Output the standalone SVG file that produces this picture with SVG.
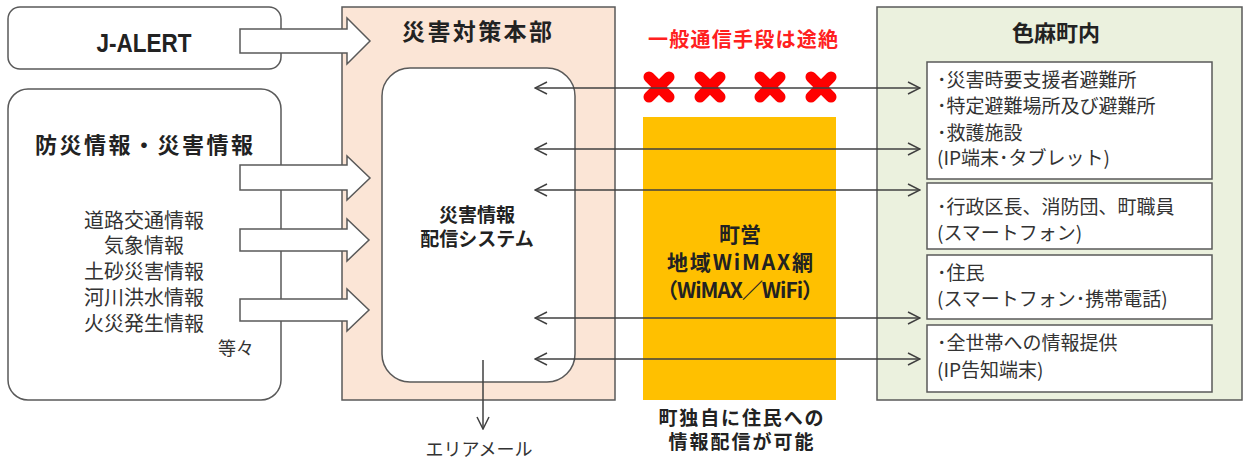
<svg xmlns="http://www.w3.org/2000/svg" width="1245" height="459" viewBox="0 0 1245 459">
<style>
text{font-family:"Noto Sans CJK JP","Noto Sans",sans-serif;fill:#333;}
.b{font-weight:bold;fill:#222;}
.c{text-anchor:middle;}
.box{fill:#fff;stroke:#595959;stroke-width:1.5;}
.blk{fill:#fff;stroke:#595959;stroke-width:1.5;stroke-linejoin:miter;}
.ln{stroke:#404040;stroke-width:1.5;fill:none;}
.x{stroke:#ff0000;stroke-width:11;stroke-linecap:round;}
.n{font-size:19px;}
.sub{fill:#fff;stroke:#595959;stroke-width:1.5;}
</style>
<defs>
<marker id="chev" viewBox="0 0 14 14" refX="13" refY="7" markerWidth="14" markerHeight="14" markerUnits="userSpaceOnUse" orient="auto-start-reverse">
<path d="M1,1 L13,7 L1,13" fill="none" stroke="#404040" stroke-width="1.5"/>
</marker>
</defs>
<rect width="1245" height="459" fill="#fff"/>

<g id="hq">
<rect x="342" y="7" width="273" height="393" fill="#fbe5d6" stroke="#595959" stroke-width="1.5"/>
<text x="477" y="40" class="b c" font-size="23" textLength="150">災害対策本部</text>
</g>

<g id="jalert">
<rect class="box" x="8" y="7" width="273" height="62" rx="12"/>
<text x="144" y="52" class="c" font-size="26" font-weight="bold" textLength="95" lengthAdjust="spacingAndGlyphs" style="font-family:'Liberation Sans',Arial,sans-serif;fill:#222">J-ALERT</text>
</g>

<g id="bousai">
<rect class="box" x="8" y="89" width="273" height="311" rx="20"/>
<text x="144" y="153" class="b c" font-size="22" textLength="218">防災情報・災害情報</text>
<text x="144" y="228" class="c" font-size="20">道路交通情報</text>
<text x="144" y="253" class="c" font-size="20">気象情報</text>
<text x="144" y="279" class="c" font-size="20">土砂災害情報</text>
<text x="144" y="305" class="c" font-size="20">河川洪水情報</text>
<text x="144" y="331" class="c" font-size="20">火災発生情報</text>
<text x="218" y="355" font-size="18">等々</text>
</g>

<g id="blockarrows">
<path class="blk" d="M240,29 H347 V18 L370,41 L347,64 V53 H240 Z"/>
<path class="blk" d="M240,165 H347 V156 L370,178 L347,200 V190 H240 Z"/>
<path class="blk" d="M240,229 H347 V219 L369,240 L347,261 V251 H240 Z"/>
<path class="blk" d="M240,299 H347 V289 L369,310 L347,331 V321 H240 Z"/>
</g>

<g id="system">
<rect class="box" x="382" y="68" width="193" height="314" rx="28"/>
<text x="477" y="222" class="b c" font-size="19">災害情報</text>
<text x="477" y="246" class="b c" font-size="19">配信システム</text>
</g>

<g id="wimax">
<rect x="643" y="117" width="193" height="283" fill="#ffc000"/>
<text x="740" y="242" class="b c" font-size="21">町営</text>
<text x="740" y="270" class="b c" font-size="21" textLength="146">地域WiMAX網</text>
<text x="740" y="298" class="b c" font-size="21" textLength="166">（WiMAX／WiFi）</text>
</g>

<g id="cut">
<text x="743" y="47" class="b c" font-size="20" textLength="190" style="fill:#ff2020">一般通信手段は途絶</text>
<line class="x" x1="649" y1="77" x2="669" y2="97"/><line class="x" x1="669" y1="77" x2="649" y2="97"/>
<line class="x" x1="700" y1="77" x2="720" y2="97"/><line class="x" x1="720" y1="77" x2="700" y2="97"/>
<line class="x" x1="760" y1="77" x2="780" y2="97"/><line class="x" x1="780" y1="77" x2="760" y2="97"/>
<line class="x" x1="811" y1="77" x2="831" y2="97"/><line class="x" x1="831" y1="77" x2="811" y2="97"/>
</g>

<g id="note">
<text x="741" y="425" class="b c" font-size="19" textLength="165">町独自に住民への</text>
<text x="741" y="449" class="b c" font-size="19" textLength="145">情報配信が可能</text>
</g>

<g id="town">
<rect x="877" y="7" width="365" height="393" fill="#ebf1de" stroke="#595959" stroke-width="1.5"/>
<text x="1056" y="41" class="b c" font-size="22">色麻町内</text>
</g>

<g id="t1">
<rect class="sub" x="927" y="62" width="285" height="117"/>
<text x="937" y="87" class="n">･災害時要支援者避難所</text>
<text x="937" y="113" class="n">･特定避難場所及び避難所</text>
<text x="937" y="140" class="n">･救護施設</text>
<text x="937" y="165" class="n">(IP端末･タブレット)</text>
</g>
<g id="t2">
<rect class="sub" x="927" y="183" width="285" height="66"/>
<text x="937" y="214" class="n">･行政区長、消防団、町職員</text>
<text x="937" y="240" class="n">(スマートフォン)</text>
</g>
<g id="t3">
<rect class="sub" x="927" y="255" width="285" height="64"/>
<text x="937" y="280" class="n">･住民</text>
<text x="937" y="306" class="n">(スマートフォン･携帯電話)</text>
</g>
<g id="t4">
<rect class="sub" x="927" y="325" width="285" height="67"/>
<text x="937" y="350" class="n">･全世帯への情報提供</text>
<text x="937" y="377" class="n">(IP告知端末)</text>
</g>

<g id="connectors">
<line class="ln" x1="535" y1="88" x2="920" y2="88" marker-start="url(#chev)" marker-end="url(#chev)"/>
<line class="ln" x1="535" y1="149" x2="920" y2="149" marker-start="url(#chev)" marker-end="url(#chev)"/>
<line class="ln" x1="535" y1="190" x2="920" y2="190" marker-start="url(#chev)" marker-end="url(#chev)"/>
<line class="ln" x1="535" y1="318" x2="920" y2="318" marker-start="url(#chev)" marker-end="url(#chev)"/>
<line class="ln" x1="535" y1="359" x2="920" y2="359" marker-start="url(#chev)" marker-end="url(#chev)"/>
<line class="ln" x1="483" y1="360" x2="483" y2="429" marker-end="url(#chev)"/>
</g>
<text x="479" y="456" class="c" font-size="18">エリアメール</text>
</svg>
